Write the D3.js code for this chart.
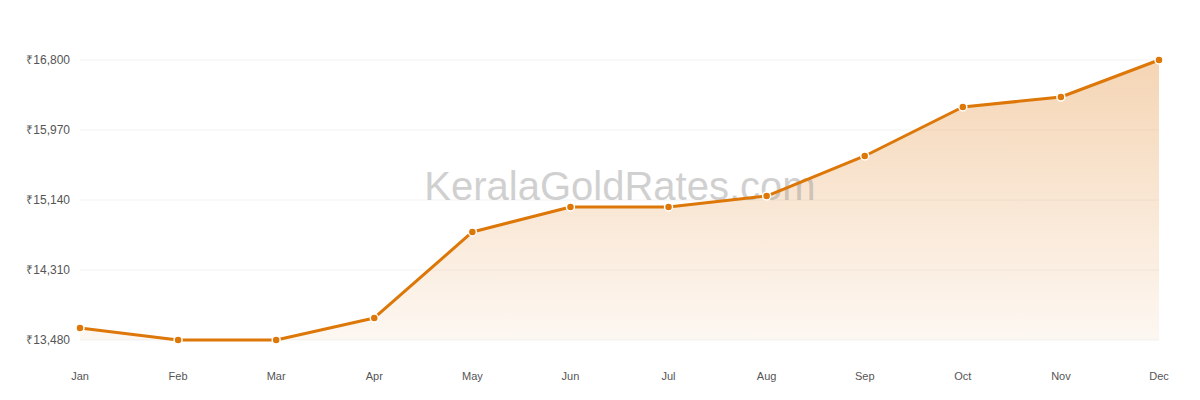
<!DOCTYPE html>
<html><head><meta charset="utf-8">
<script src="https://cdn.jsdelivr.net/npm/d3@7"></script>
<style>body{margin:0;background:#fff;font-family:"Liberation Sans",Arial,sans-serif}</style>
</head><body><svg id="c" width="1200" height="400"></svg>
<script>
const months=["Jan","Feb","Mar","Apr","May","Jun","Jul","Aug","Sep","Oct","Nov","Dec"];
const prices=[13622,13480,13480,13741,14761,15057,15057,15187,15662,16243,16361,16800];
const yTicks=[13480,14310,15140,15970,16800];
const svg=d3.select("#c");
const x=d3.scalePoint().domain(months).range([80,1159]);
const y=d3.scaleLinear().domain([13480,16800]).range([340,60]);
const defs=svg.append("defs");
const g=defs.append("linearGradient").attr("id","gr").attr("x1",0).attr("y1",0).attr("x2",0).attr("y2",1);
g.append("stop").attr("offset","0%").attr("stop-color","#e8a25a").attr("stop-opacity",0.45);
g.append("stop").attr("offset","100%").attr("stop-color","#e8a25a").attr("stop-opacity",0.08);
svg.append("g").selectAll("line").data(yTicks).join("line")
 .attr("x1",80).attr("x2",1159).attr("y1",d=>y(d)).attr("y2",d=>y(d)).attr("stroke","#f2f2f2");
svg.append("g").selectAll("text").data(yTicks).join("text")
 .attr("x",70).attr("y",d=>y(d)+4).attr("text-anchor","end").attr("font-size",12).attr("fill","#555")
 .text(d=>"₹"+d3.format(",")(d));
svg.append("g").selectAll("text").data(months).join("text")
 .attr("x",d=>x(d)).attr("y",380).attr("text-anchor","middle").attr("font-size",11).attr("fill","#555").text(d=>d);
const data=months.map((m,i)=>({m,v:prices[i]}));
svg.append("path").datum(data).attr("fill","url(#gr)")
 .attr("d",d3.area().x(d=>x(d.m)).y0(y(13480)).y1(d=>y(d.v)));
svg.append("text").attr("x",620).attr("y",200).attr("text-anchor","middle").attr("font-size",40)
 .attr("fill","#999").attr("opacity",0.45).text("KeralaGoldRates.com");
svg.append("path").datum(data).attr("fill","none").attr("stroke","#dc7708").attr("stroke-width",3)
 .attr("stroke-linejoin","round").attr("d",d3.line().x(d=>x(d.m)).y(d=>y(d.v)));
svg.append("g").selectAll("circle").data(data).join("circle")
 .attr("cx",d=>x(d.m)).attr("cy",d=>y(d.v)).attr("r",4).attr("fill","#dc7708").attr("stroke","#fff").attr("stroke-width",1.5);
</script></body></html>
